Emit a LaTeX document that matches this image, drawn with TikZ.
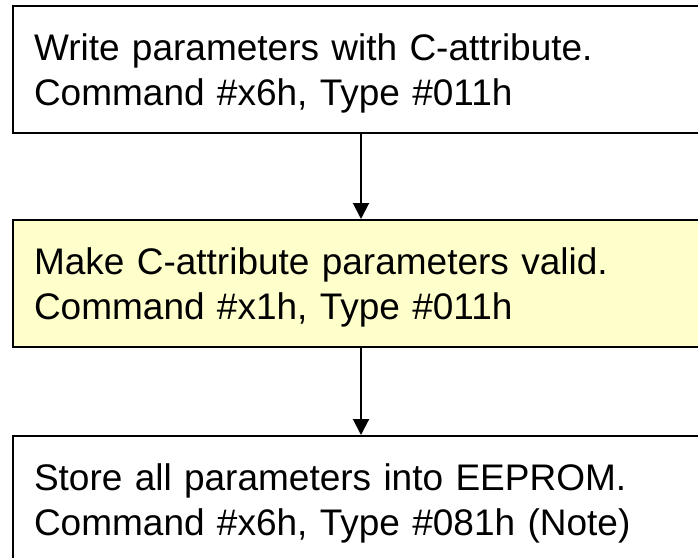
\documentclass[tikz,border=0pt]{standalone}
\usepackage{fontspec}
\setmainfont{Liberation Sans}
\usetikzlibrary{arrows.meta}
\definecolor{boxyellow}{HTML}{FFFFCC}
\tikzset{
  box/.style={draw=black, line width=2pt, anchor=north west,
    minimum width=700pt, minimum height=127pt, text width=658pt,
    inner xsep=21pt, inner ysep=0pt, align=left,
    font=\fontsize{37pt}{45pt}\selectfont},
  arr/.style={draw=black, line width=2pt, -{Triangle[width=16pt,length=16pt]}}
}
\newcommand{\firststrut}{\rule{0pt}{34pt}}
\begin{document}
\begin{tikzpicture}[x=1pt,y=-1pt]
\useasboundingbox (0,0) rectangle (698,557);
\clip (0,0) rectangle (698,557);
\fill[white] (0,0) rectangle (698,557);
\node[box] (b1) at (12,5) {\firststrut Write parameters with C-attribute.\\Command \#x6h, Type \#011h};
\node[box, fill=boxyellow] (b2) at (12,219) {\firststrut Make C-attribute parameters valid.\\Command \#x1h, Type \#011h};
\node[box] (b3) at (12,435) {\firststrut Store all parameters into EEPROM.\\Command \#x6h, Type \#081h (Note)};
\coordinate (ax) at (361,0);
\draw[arr] (b1.south -| ax) -- (b2.north -| ax);
\draw[arr] (b2.south -| ax) -- (b3.north -| ax);
\end{tikzpicture}
\end{document}
